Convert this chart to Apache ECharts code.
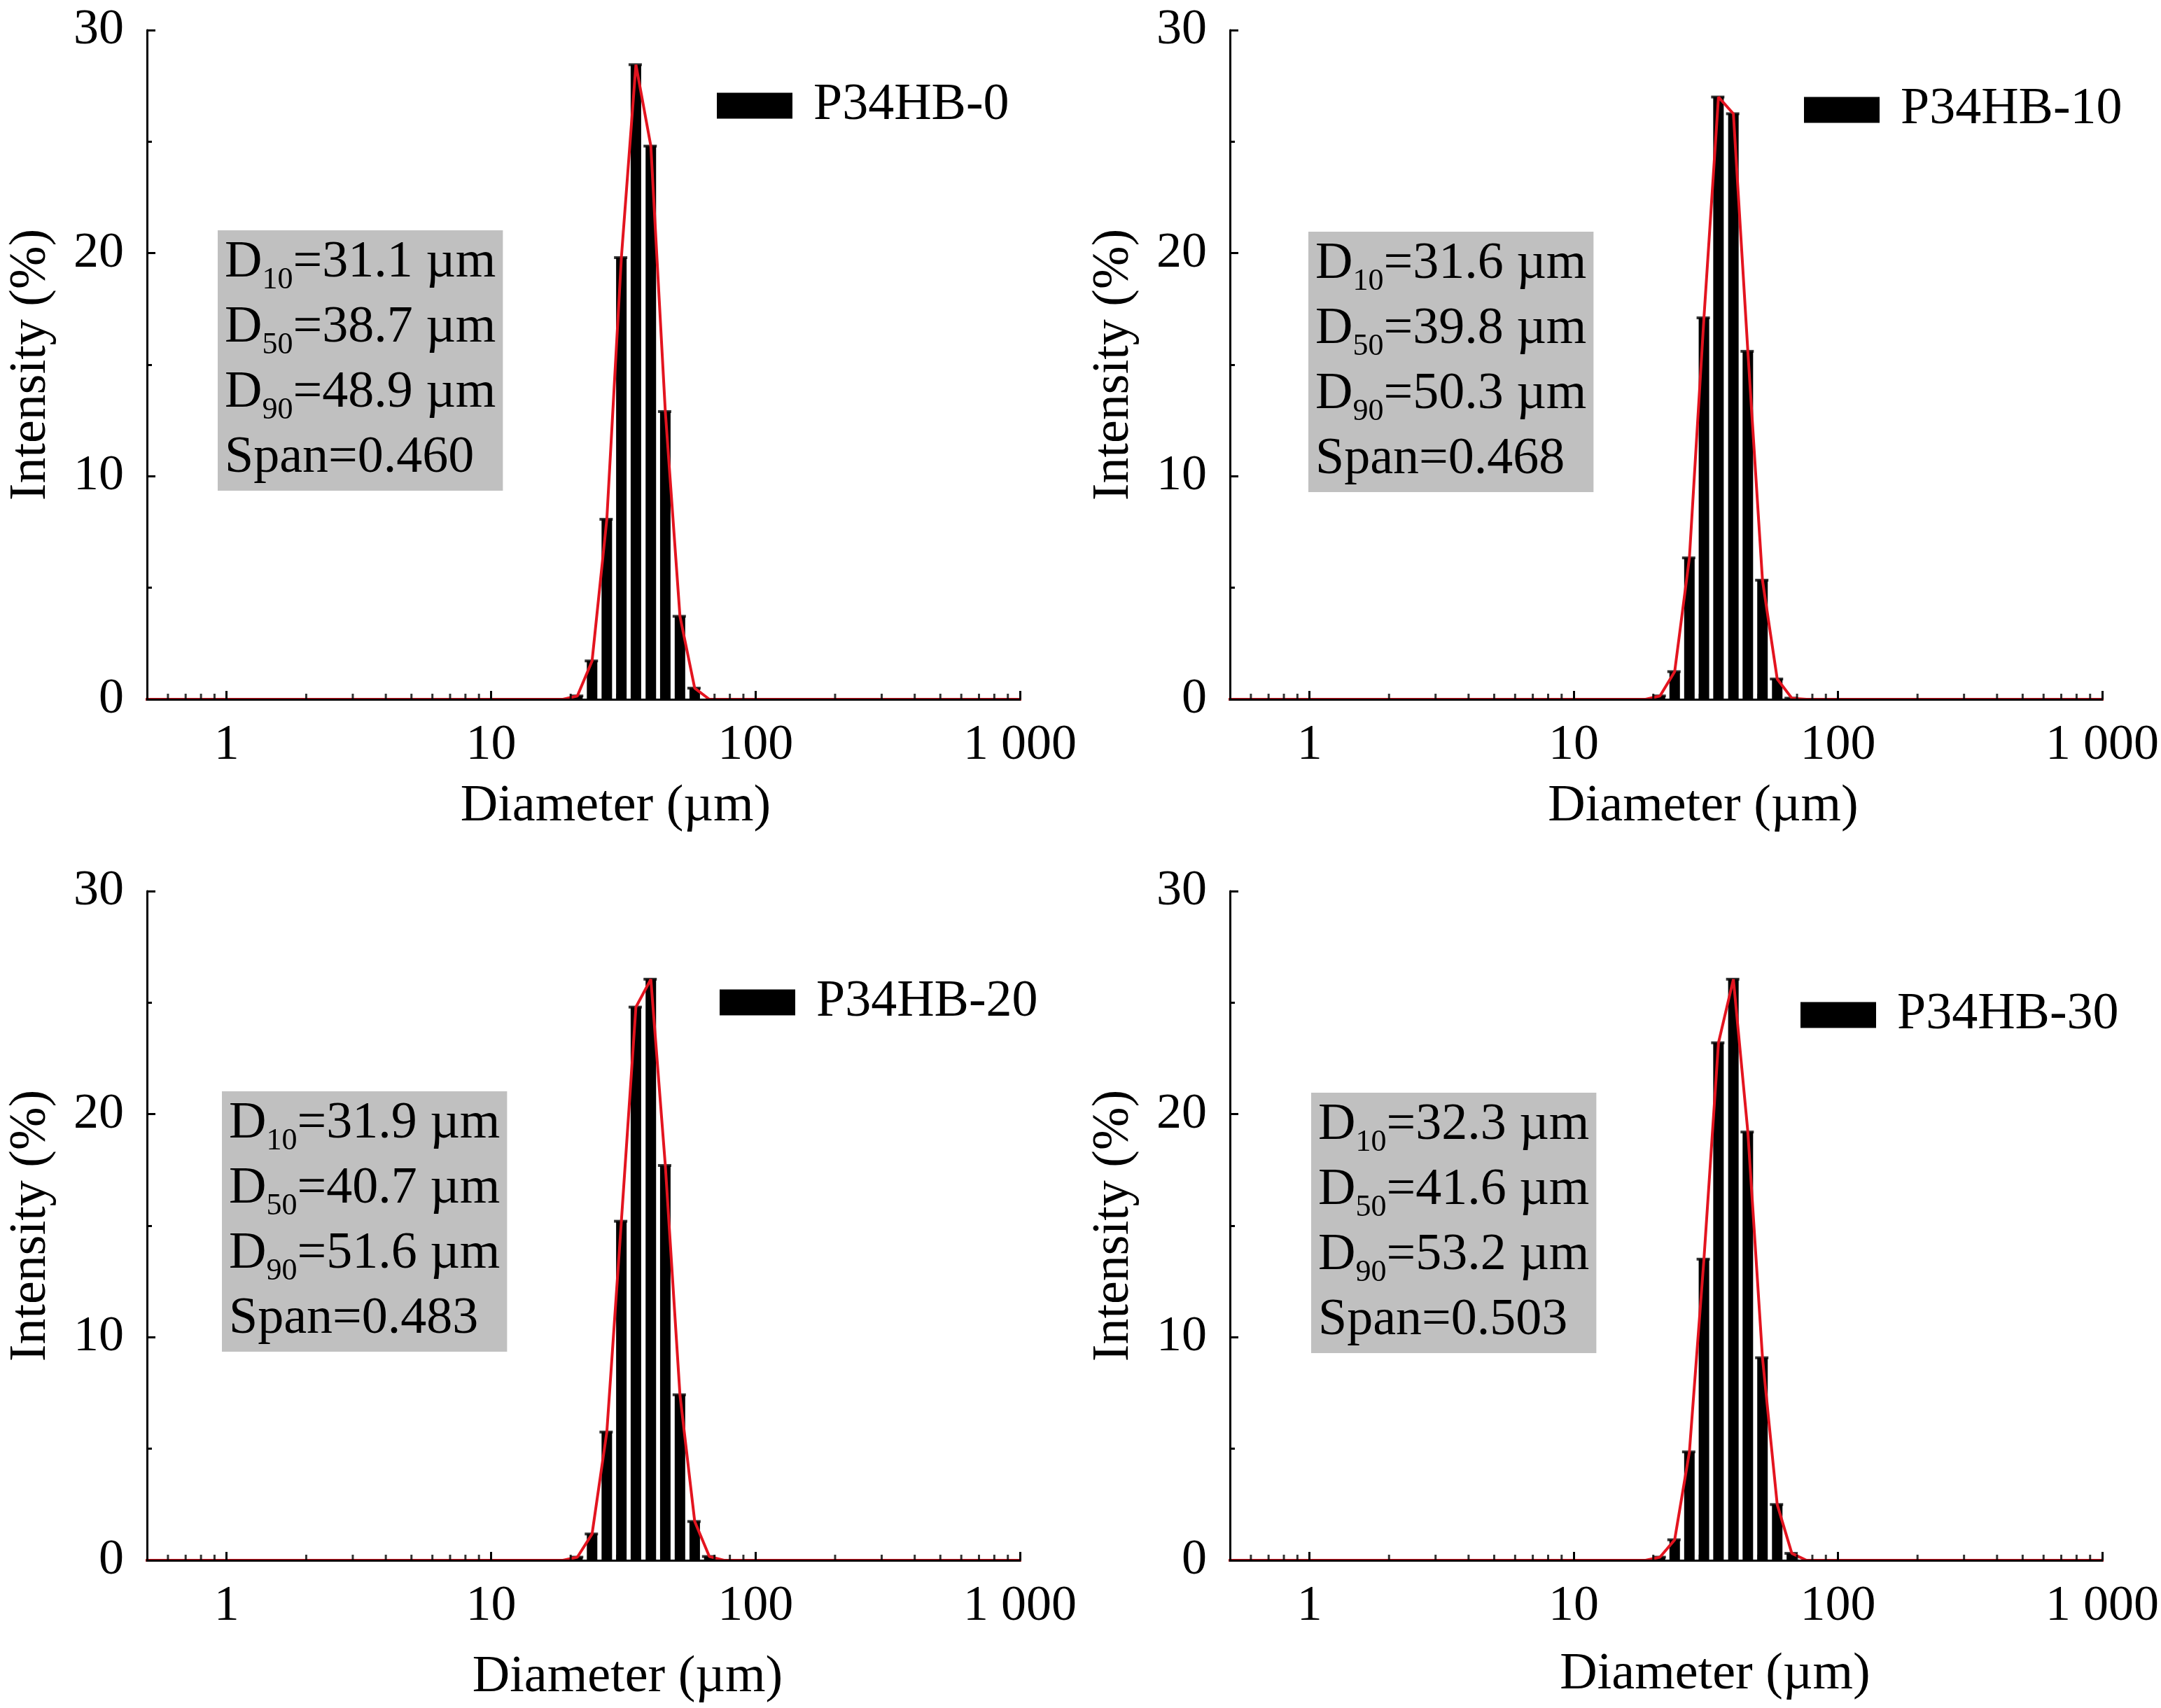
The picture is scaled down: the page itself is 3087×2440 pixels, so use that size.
<!DOCTYPE html>
<html>
<head>
<meta charset="utf-8">
<script src="https://cdn.jsdelivr.net/npm/echarts@6/dist/echarts.min.js"></script>
<style>
html,body{margin:0;padding:0;background:#fff;}
#chart{width:3087px;height:2440px;}
</style>
</head>
<body>
<div id="chart"></div>
<script>
// ---------- data ----------
const sampleNames = ['P34HB-0', 'P34HB-10', 'P34HB-20', 'P34HB-30'];
// size classes (µm), log-spaced
const diameters = [18.7, 21.2, 24.1, 27.4, 31.1, 35.3, 40.2, 45.6, 51.8, 58.9, 66.9, 76.0];
const intensity0  = [0, 0.15, 1.72, 8.07, 19.8, 28.45, 24.8, 12.9, 3.72, 0.50, 0, 0];
const intensity10 = [0, 0.15, 1.24, 6.34, 17.1, 27.0, 26.25, 15.6, 5.34, 0.91, 0.05, 0];
const intensity20 = [0, 0.14, 1.18, 5.75, 15.2, 24.8, 26.05, 17.7, 7.42, 1.74, 0.17, 0];
const intensity30 = [0, 0.14, 0.92, 4.86, 13.5, 23.2, 26.05, 19.2, 9.08, 2.50, 0.31, 0];
const intensities = [intensity0, intensity10, intensity20, intensity30];
// baseline of fitted curve extends over whole range
const curveStart = 0.46;
const curveEnd = 1090;
const d10 = ['31.1', '31.6', '31.9', '32.3'];
const d50 = ['38.7', '39.8', '40.7', '41.6'];
const d90 = ['48.9', '50.3', '51.6', '53.2'];
const spanValues = ['0.460', '0.468', '0.483', '0.503'];
const xMin = 0.5, xMax = 1000;
const yTicks = [0, 10, 20, 30];
const xTickLabels = {1: '1', 10: '10', 100: '100', 1000: '1 000'};
const minorTickValues = [0.6, 0.7, 0.8, 0.9, 2, 3, 4, 5, 6, 7, 8, 9, 20, 30, 40, 50, 60, 70, 80, 90, 200, 300, 400, 500, 600, 700, 800, 900];

// ---------- layout ----------
const FONT = 'Liberation Serif';
const grids = [
  {left: 210, top: 43, width: 1247, height: 956},
  {left: 1757, top: 43, width: 1247, height: 956},
  {left: 210, top: 1273, width: 1247, height: 956},
  {left: 1757, top: 1273, width: 1247, height: 956}
];
const xNamePad = [92, 106, 126, 140];
const xNameGap = [117, 117, 131, 127];
const legendPos = [
  {left: 1024, top: 114}, {left: 2577, top: 120},
  {left: 1028, top: 1395}, {left: 2572, top: 1413}
];
const boxPos = [
  {left: 311, top: 329}, {left: 1869, top: 331},
  {left: 317, top: 1559}, {left: 1873, top: 1561}
];

const chart = echarts.init(document.getElementById('chart'), null, {renderer: 'canvas'});

const xAxes = [], yAxes = [], series = [], legends = [], titles = [];
for (let i = 0; i < 4; i++) {
  xAxes.push({
    gridIndex: i, type: 'log', logBase: 10, min: xMin, max: xMax, z: 5,
    name: 'Diameter (µm)', nameLocation: 'middle', nameGap: xNameGap[i],
    nameTextStyle: {fontFamily: FONT, fontSize: 74, color: '#000', padding: [0, 0, 0, xNamePad[i]]},
    axisLine: {show: true, onZero: false, lineStyle: {color: '#000', width: 3}},
    axisTick: {show: true, inside: true, length: 12, lineStyle: {color: '#000', width: 3}},
    minorTick: {show: false},
    splitLine: {show: false},
    axisLabel: {
      show: true, margin: 30, fontFamily: FONT, fontSize: 72, color: '#000',
      showMinLabel: true, showMaxLabel: true,
      formatter: function (v) {
        const l = Math.log10(v);
        const r = Math.round(l);
        if (Math.abs(l - r) > 1e-6) return '';
        const key = Math.pow(10, r);
        return xTickLabels[key] !== undefined ? xTickLabels[key] : '';
      }
    }
  });
  yAxes.push({
    gridIndex: i, type: 'value', min: yTicks[0], max: yTicks[yTicks.length - 1], interval: 10, z: 5,
    name: 'Intensity (%)', nameLocation: 'middle', nameGap: 128, nameRotate: 90,
    nameTextStyle: {fontFamily: FONT, fontSize: 74, color: '#000'},
    axisLine: {show: true, lineStyle: {color: '#000', width: 3}},
    axisTick: {show: true, inside: true, length: 12, lineStyle: {color: '#000', width: 3}},
    minorTick: {show: true, splitNumber: 2, length: 7, lineStyle: {color: '#000', width: 3}},
    splitLine: {show: false},
    axisLabel: {margin: 33, fontFamily: FONT, fontSize: 72, color: '#000'}
  });
  const vals = intensities[i];
  const barData = diameters.map((d, j) => [d, vals[j]]);
  series.push({
    name: sampleNames[i], type: 'bar', xAxisIndex: i, yAxisIndex: i,
    data: barData.filter(p => p[1] > 0), barWidth: 15,
    itemStyle: {color: '#000'}, z: 2, animation: false
  });
  series.push({
    name: sampleNames[i] + ' caps', type: 'scatter', xAxisIndex: i, yAxisIndex: i,
    data: barData.filter(p => p[1] > 0), symbol: 'rect', symbolSize: [19, 4],
    symbolOffset: [-1, 0], itemStyle: {color: '#000'}, z: 2, silent: true, animation: false
  });
  const curveData = [[curveStart, 0]].concat(barData).concat([[curveEnd, 0]]);
  series.push({
    name: sampleNames[i] + ' fit', type: 'line', xAxisIndex: i, yAxisIndex: i,
    data: curveData, symbol: 'none', clip: false,
    lineStyle: {color: '#e3141f', width: 4}, z: 3, animation: false
  });
  series.push({
    name: sampleNames[i] + ' minor', type: 'scatter', xAxisIndex: i, yAxisIndex: i,
    data: minorTickValues.map(v => [v, 0]), symbol: 'rect', symbolSize: [3, 8],
    symbolOffset: [0, -4], itemStyle: {color: '#000'}, z: 6, silent: true, animation: false
  });
  legends.push({
    data: [sampleNames[i]], left: legendPos[i].left, top: legendPos[i].top,
    orient: 'horizontal', padding: 0, icon: 'rect', itemWidth: 108, itemHeight: 37,
    selectedMode: false,
    textStyle: {fontFamily: FONT, fontSize: 74, color: '#000', padding: [0, 0, 0, 25]}
  });
  titles.push({
    left: boxPos[i].left, top: boxPos[i].top,
    text: 'D{sub|10}=' + d10[i] + ' µm\nD{sub|50}=' + d50[i] + ' µm\nD{sub|90}=' + d90[i] + ' µm\nSpan=' + spanValues[i],
    backgroundColor: '#c0c0c0', padding: [0, 10, 0, 10],
    textStyle: {
      fontFamily: FONT, fontSize: 74, fontWeight: 'normal', color: '#000', lineHeight: 93,
      rich: {
        sub: {fontFamily: FONT, fontSize: 44, color: '#000', lineHeight: 40, verticalAlign: 'bottom'}
      }
    }
  });
}

chart.setOption({
  animation: false,
  backgroundColor: '#fff',
  title: titles,
  legend: legends,
  grid: grids,
  xAxis: xAxes,
  yAxis: yAxes,
  series: series
});
</script>
</body>
</html>
